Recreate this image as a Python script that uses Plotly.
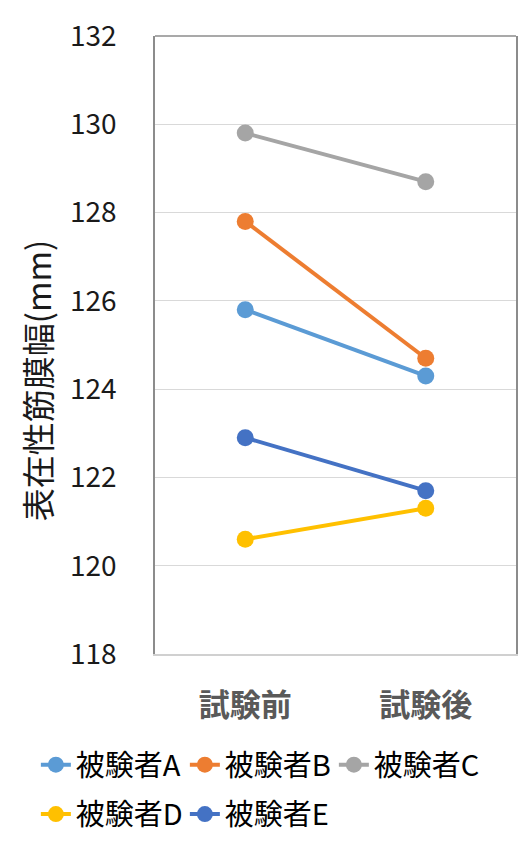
import plotly.graph_objects as go

# data
timepoints = ["試験前", "試験後"]
subjects = ["被験者A", "被験者B", "被験者C", "被験者D", "被験者E"]
widths_mm = [
    [125.8, 124.3],
    [127.8, 124.7],
    [129.8, 128.7],
    [120.6, 121.3],
    [122.9, 121.7],
]
y_ticks = [118, 120, 122, 124, 126, 128, 130, 132]

COLORS = ["#5B9BD5", "#ED7D31", "#A5A5A5", "#FFC000", "#4472C4"]
FONT = "Noto Sans CJK JP"

fig = go.Figure()
for idx, (name, values) in enumerate(zip(subjects, widths_mm)):
    fig.add_trace(
        go.Scatter(
            x=timepoints,
            y=values,
            name=name,
            mode="lines+markers",
            line={"color": COLORS[idx], "width": 4},
            marker={"color": COLORS[idx], "size": 17},
            # first three entries on the top legend row, the rest below
            legend="legend" if idx < 3 else "legend2",
        )
    )

legend_style = {
    "orientation": "h",
    "xanchor": "left",
    "yanchor": "top",
    "entrywidth": 104,
    "entrywidthmode": "pixels",
    "font": {"size": 29, "family": FONT},
    "itemwidth": 30,
    "bgcolor": "rgba(0,0,0,0)",
}

# page body has an 8px margin, so the figure is sized to fit the window
fig.update_layout(
    width=523,
    height=838,
    margin={"l": 147, "r": 15, "t": 28, "b": 192, "autoexpand": False},
    paper_bgcolor="white",
    plot_bgcolor="white",
    font={"family": FONT, "color": "#000000"},
    showlegend=True,
    legend={**legend_style, "x": -0.33, "y": -0.138},
    legend2={**legend_style, "x": -0.33, "y": -0.218},
)
fig.update_xaxes(
    type="category",
    range=[-0.5, 1.5],
    automargin=False,
    showgrid=False,
    showline=True,
    linecolor="#D0D0D0",
    linewidth=1.5,
    ticks="",
    ticklabelstandoff=23,
    tickfont={"size": 31, "color": "#595959", "family": FONT, "weight": "bold"},
)
fig.update_yaxes(
    range=[118, 132],
    tickvals=y_ticks,
    automargin=False,
    showgrid=True,
    gridcolor="#D9D9D9",
    gridwidth=1.2,
    zeroline=False,
    showline=True,
    mirror=True,
    linecolor="#8C8C8C",
    linewidth=1.5,
    ticks="",
    ticklabelstandoff=31,
    tickfont={"size": 28, "family": FONT, "color": "#1A1A1A"},
)
# top border of the plot frame
fig.add_shape(
    type="line", xref="paper", yref="paper", x0=0, x1=1, y0=1, y1=1,
    line={"color": "#8C8C8C", "width": 1.5},
)
fig.add_annotation(
    text="表在性筋膜幅(mm)",
    xref="paper",
    yref="paper",
    x=-0.327,
    y=0.443,
    xanchor="center",
    yanchor="middle",
    showarrow=False,
    textangle=-90,
    font={"size": 33, "family": FONT, "color": "#1A1A1A"},
)

fig.write_html("out.html")
